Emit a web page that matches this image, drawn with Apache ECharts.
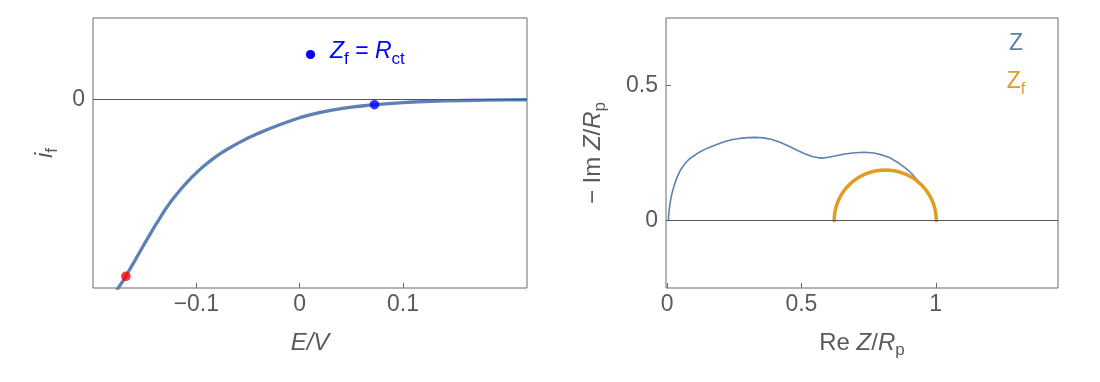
<!DOCTYPE html>
<html>
<head>
<meta charset="utf-8">
<script src="https://cdn.jsdelivr.net/npm/echarts@6/dist/echarts.min.js"></script>
<style>
html,body{margin:0;padding:0;background:#fff;}
#chart{width:1100px;height:382px;}
</style>
</head>
<body>
<div id="chart"></div>
<script>
// ---- Left panel: i_f vs E ----
const eValues = [-0.18, -0.175, -0.17, -0.165, -0.16, -0.155, -0.15, -0.145, -0.14, -0.135, -0.13, -0.125, -0.12, -0.115, -0.11, -0.105, -0.10, -0.095, -0.09, -0.085, -0.08, -0.075, -0.07, -0.06, -0.05, -0.04, -0.03, -0.02, -0.01, 0, 0.01, 0.02, 0.03, 0.04, 0.05, 0.06, 0.07, 0.08, 0.09, 0.10, 0.11, 0.12, 0.14, 0.16, 0.18, 0.20, 0.22];
const iValues = [-1.04, -0.995, -0.955, -0.907, -0.860, -0.812, -0.764, -0.717, -0.671, -0.627, -0.583, -0.545, -0.510, -0.477, -0.446, -0.417, -0.390, -0.365, -0.342, -0.320, -0.300, -0.282, -0.265, -0.234, -0.206, -0.181, -0.158, -0.137, -0.117, -0.098, -0.083, -0.070, -0.059, -0.050, -0.042, -0.036, -0.030, -0.026, -0.022, -0.018, -0.015, -0.013, -0.009, -0.007, -0.005, -0.004, -0.003];
const redPoint = [-0.1682, -0.938];
const bluePoint = [0.0724, -0.029];
const leftXTicks = [-0.1, 0, 0.1];
const leftYTicks = [0];

// ---- Right panel: Nyquist plot ----
const zRe = [0.005, 0.006, 0.008, 0.012, 0.018, 0.027, 0.037, 0.049, 0.065, 0.08, 0.0985, 0.12, 0.15, 0.18, 0.21, 0.24, 0.27, 0.30, 0.33, 0.36, 0.39, 0.42, 0.45, 0.48, 0.51, 0.54, 0.56, 0.577, 0.60, 0.63, 0.66, 0.70, 0.734, 0.77, 0.80, 0.83, 0.86, 0.89, 0.91, 0.93, 0.945, 0.958, 0.968, 0.977, 0.985, 0.991, 0.996, 0.999, 1.001, 1.002];
const zIm = [0.0, 0.02, 0.04, 0.07, 0.10, 0.132, 0.160, 0.185, 0.209, 0.225, 0.239, 0.253, 0.268, 0.280, 0.291, 0.299, 0.304, 0.307, 0.308, 0.306, 0.300, 0.290, 0.277, 0.262, 0.248, 0.237, 0.233, 0.231, 0.234, 0.240, 0.246, 0.251, 0.253, 0.250, 0.243, 0.232, 0.214, 0.192, 0.174, 0.152, 0.135, 0.121, 0.108, 0.094, 0.079, 0.064, 0.048, 0.032, 0.016, 0.0];
const zfRe = [0.622, 0.6227, 0.6249, 0.6285, 0.6335, 0.6398, 0.6475, 0.6564, 0.6665, 0.6777, 0.6899, 0.7030, 0.7170, 0.7317, 0.7470, 0.7628, 0.7790, 0.7954, 0.812, 0.8286, 0.8450, 0.8612, 0.8770, 0.8923, 0.9070, 0.9210, 0.9341, 0.9463, 0.9575, 0.9676, 0.9765, 0.9842, 0.9905, 0.9955, 0.9991, 1.0013, 1.002];
const zfIm = [0, 0.0163, 0.0325, 0.0484, 0.0640, 0.0790, 0.0935, 0.1073, 0.1202, 0.1322, 0.1432, 0.1532, 0.1619, 0.1695, 0.1757, 0.1806, 0.1842, 0.1863, 0.187, 0.1863, 0.1842, 0.1806, 0.1757, 0.1695, 0.1619, 0.1532, 0.1432, 0.1322, 0.1202, 0.1073, 0.0935, 0.0790, 0.0640, 0.0484, 0.0325, 0.0163, 0];
const rightXTicks = [0, 0.5, 1];
const rightYTicks = [0, 0.5];

const FONT = "'Liberation Sans', Arial, Helvetica, sans-serif";
const TXT = '#5a5a5a';
const FRAME = '#6a6a6a';
const BLUE_LINE = '#5E81B5';
const ORANGE = '#E19C24';

function zip(a, b) { return a.map((v, k) => [v, b[k]]); }
function fmt(v) { return v < 0 ? '\u2212' + String(Math.abs(v)) : String(v); }

function richSet(color, size, sub) {
  return {
    n:   { fontFamily: FONT, fontSize: size, color: color, lineHeight: 32, verticalAlign: 'middle' },
    it:  { fontFamily: FONT, fontSize: size, color: color, fontStyle: 'italic', lineHeight: 32, verticalAlign: 'middle' },
    sub: { fontFamily: FONT, fontSize: sub, color: color, lineHeight: 19, verticalAlign: 'bottom' }
  };
}

function xAxisCfg(gridIndex, min, max, ticks, name) {
  return {
    type: 'value', gridIndex: gridIndex, min: min, max: max,
    splitLine: { show: false },
    axisLine: { show: false, onZero: false },
    axisTick: { show: true, inside: true, length: 5, customValues: ticks, lineStyle: { color: FRAME, width: 1 } },
    axisLabel: { show: true, customValues: ticks, formatter: fmt, fontFamily: FONT, fontSize: 23, color: TXT, margin: 5 },
    name: name, nameLocation: 'middle', nameGap: 39,
    nameTextStyle: { rich: richSet(TXT, 24, 17) }
  };
}
function yAxisCfg(gridIndex, min, max, ticks, name, gap) {
  return {
    type: 'value', gridIndex: gridIndex, min: min, max: max,
    splitLine: { show: false },
    axisLine: { show: false, onZero: false },
    axisTick: { show: true, inside: true, length: 5, customValues: ticks, lineStyle: { color: FRAME, width: 1 } },
    axisLabel: { show: true, customValues: ticks, formatter: fmt, fontFamily: FONT, fontSize: 23, color: TXT, margin: 8 },
    name: name, nameLocation: 'middle', nameGap: gap, nameRotate: 90,
    nameTextStyle: { rich: richSet(TXT, 24, 17) }
  };
}

const zeroLine = {
  silent: true, symbol: ['none', 'none'], label: { show: false },
  lineStyle: { color: '#555', width: 1, type: 'solid' },
  emphasis: { disabled: true },
  data: [{ yAxis: 0 }]
};

const chart = echarts.init(document.getElementById('chart'), null, { renderer: 'canvas' });
const option = {
  animation: false,
  backgroundColor: '#fff',
  grid: [
    { left: 93, top: 18, width: 434, height: 270, show: true, borderColor: FRAME, borderWidth: 1, backgroundColor: 'transparent' },
    { left: 666, top: 18, width: 392, height: 270, show: true, borderColor: FRAME, borderWidth: 1, backgroundColor: 'transparent' }
  ],
  xAxis: [
    xAxisCfg(0, -0.2, 0.22, leftXTicks, '{it|E/V}'),
    xAxisCfg(1, -0.004, 1.455, rightXTicks, '{n|Re }{it|Z}{n|/}{it|R}{sub|p}')
  ],
  yAxis: [
    yAxisCfg(0, -1, 0.43, leftYTicks, '{it|i}{sub|f}', 32),
    yAxisCfg(1, -0.25, 0.75, rightYTicks, '{n|\u2212 Im }{it|Z}{n|/}{it|R}{sub|p}', 57)
  ],
  series: [
    {
      type: 'line', name: 'if', xAxisIndex: 0, yAxisIndex: 0,
      data: zip(eValues, iValues), showSymbol: false, symbol: 'none',
      smooth: false, clip: true,
      lineStyle: { color: BLUE_LINE, width: 3.3, join: 'round' },
      markLine: zeroLine, z: 2
    },
    {
      type: 'scatter', name: 'red', xAxisIndex: 0, yAxisIndex: 0,
      data: [redPoint], symbol: 'circle', symbolSize: 9.5,
      itemStyle: { color: '#ff0000' }, z: 4
    },
    {
      type: 'scatter', name: 'Zf = Rct', xAxisIndex: 0, yAxisIndex: 0,
      data: [bluePoint], symbol: 'circle', symbolSize: 9.5,
      itemStyle: { color: '#0000ff' }, z: 4
    },
    {
      type: 'line', name: 'Z', xAxisIndex: 1, yAxisIndex: 1,
      data: zip(zRe, zIm), showSymbol: false, symbol: 'none',
      smooth: false, clip: true,
      lineStyle: { color: BLUE_LINE, width: 1.6, join: 'round' },
      markLine: zeroLine, z: 2
    },
    {
      type: 'line', name: 'Zf', xAxisIndex: 1, yAxisIndex: 1,
      data: zip(zfRe, zfIm), showSymbol: false, symbol: 'none',
      smooth: false, clip: false,
      lineStyle: { color: ORANGE, width: 3.5, join: 'round', cap: 'round' }, z: 3
    }
  ],
  graphic: [
    { type: 'circle', shape: { cx: 310.5, cy: 54.5, r: 4.6 }, style: { fill: '#0000ff' }, z: 10 },
    { type: 'text', x: 330, y: 52, z: 10,
      style: { text: '{it|Z}{sub|f}{n| = }{it|R}{sub|ct}', rich: richSet('#0000ff', 23, 17), fill: '#0000ff', align: 'left', verticalAlign: 'middle' } },
    { type: 'text', x: 1016, y: 44, z: 10,
      style: { text: '{n|Z}', rich: richSet(BLUE_LINE, 23, 16), fill: BLUE_LINE, align: 'center', verticalAlign: 'middle' } },
    { type: 'text', x: 1016, y: 82, z: 10,
      style: { text: '{n|Z}{sub|f}', rich: richSet(ORANGE, 23, 16), fill: ORANGE, align: 'center', verticalAlign: 'middle' } }
  ]
};
chart.setOption(option);
</script>
</body>
</html>
